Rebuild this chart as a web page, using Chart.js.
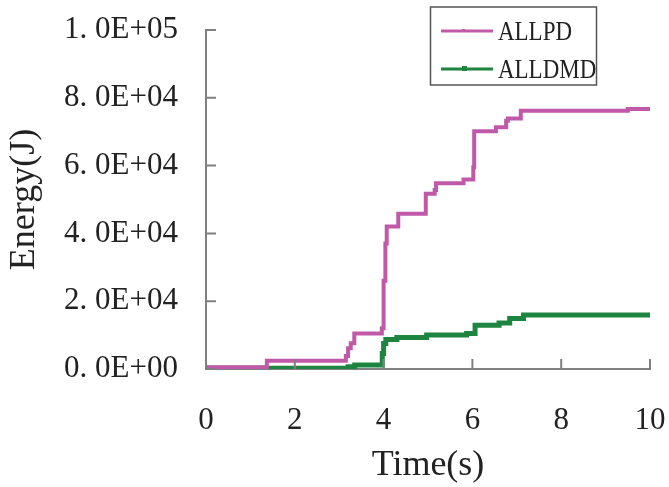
<!DOCTYPE html>
<html>
<head>
<meta charset="utf-8">
<script src="https://cdn.jsdelivr.net/npm/chart.js@4"></script>
<style>
  html, body { margin: 0; padding: 0; background: #fff; }
  #wrap { width: 669px; height: 487px; }
</style>
</head>
<body>
<div id="wrap"><canvas id="energy-chart"></canvas></div>
<script>
// step data: time (s) where the value jumps, energy (J) after the jump
const pdTimes = [0, 1.37, 3.15, 3.2, 3.26, 3.34, 3.96, 4.0, 4.04, 4.07, 4.33, 4.95, 5.15, 5.18, 5.8, 6.02, 6.04, 6.53, 6.76, 6.8, 7.09, 9.5, 10];
const pdValues = [500, 2400, 3800, 6100, 7600, 10500, 12000, 26000, 37000, 42000, 45800, 51700, 52800, 54800, 55900, 59500, 70100, 71300, 73200, 73900, 76200, 76700, 76700];

const dmdTimes = [0, 3.2, 3.35, 3.97, 4.0, 4.05, 4.3, 4.97, 5.87, 6.06, 6.6, 6.84, 7.15, 10];
const dmdValues = [200, 700, 1200, 4600, 7500, 8700, 9300, 10000, 10500, 12900, 13600, 14900, 15900, 15700];

const xTicks = [0, 2, 4, 6, 8, 10];
const yTicks = [0, 20000, 40000, 60000, 80000, 100000];

const seriesLabels = ['ALLPD', 'ALLDMD'];
const seriesColors = ['#c05aa8', '#1d8540'];

const toPoints = (xs, ys) => xs.map((x, i) => ({ x, y: ys[i] }));

const sciLabel = (v) => {
    const exp = v === 0 ? 0 : Math.floor(Math.log10(v));
    const mant = v / Math.pow(10, exp);
    return mant.toFixed(1).replace('.', '. ') + 'E+' + String(exp).padStart(2, '0');
};

const serif = '"Liberation Serif", "DejaVu Serif", serif';
const axisGray = '#808080';

// inward tick marks on both axes
const innerTicks = {
    id: 'innerTicks',
    afterDraw(chart) {
        const { ctx, scales: { x, y } } = chart;
        ctx.save();
        ctx.strokeStyle = axisGray;
        ctx.lineWidth = 2;
        ctx.beginPath();
        yTicks.forEach(v => {
            const py = y.getPixelForValue(v);
            ctx.moveTo(x.left, py);
            ctx.lineTo(x.left + 10, py);
        });
        xTicks.forEach(v => {
            const px = x.getPixelForValue(v);
            ctx.moveTo(px, y.bottom);
            ctx.lineTo(px, y.bottom - 10);
        });
        ctx.stroke();
        ctx.restore();
    }
};

// boxed legend in the top right corner
const boxLegend = {
    id: 'boxLegend',
    afterDraw(chart) {
        const ctx = chart.ctx;
        ctx.save();
        ctx.strokeStyle = '#555';
        ctx.lineWidth = 1.5;
        ctx.strokeRect(430.5, 7, 166, 78);
        const rows = [31, 69];
        chart.data.datasets.forEach((ds, i) => {
            const ly = rows[i];
            ctx.strokeStyle = ds.borderColor;
            ctx.lineWidth = 3;
            ctx.beginPath();
            ctx.moveTo(441, ly);
            ctx.lineTo(493, ly);
            ctx.stroke();
            ctx.fillStyle = ds.borderColor;
            ctx.fillRect(462, ly - (i ? 3 : 2), i ? 5 : 3, i ? 5 : 3);
            ctx.save();
            ctx.translate(498, ly + 9);
            ctx.scale(0.82, 1);
            ctx.fillStyle = '#222';
            ctx.font = '28px ' + serif;
            ctx.textBaseline = 'alphabetic';
            ctx.fillText(ds.label, 0, 0);
            ctx.restore();
        });
        ctx.restore();
    }
};

new Chart(document.getElementById('energy-chart'), {
    type: 'line',
    data: {
        datasets: [
            {
                label: seriesLabels[0],
                data: toPoints(pdTimes, pdValues),
                borderColor: seriesColors[0],
                backgroundColor: seriesColors[0],
                borderWidth: 4,
                stepped: true,
                pointRadius: 0,
                fill: false,
            },
            {
                label: seriesLabels[1],
                data: toPoints(dmdTimes, dmdValues),
                borderColor: seriesColors[1],
                backgroundColor: seriesColors[1],
                borderWidth: 5,
                stepped: true,
                pointRadius: 0,
                fill: false,
            },
        ],
    },
    options: {
        responsive: true,
        maintainAspectRatio: false,
        animation: false,
        layout: { padding: { top: 30, right: 19, left: 0, bottom: 0 } },
        plugins: {
            legend: { display: false },
            tooltip: { enabled: false },
        },
        scales: {
            x: {
                type: 'linear',
                min: 0,
                max: 10,
                afterFit: (scale) => {
                    scale.height = 118;
                    scale.paddingLeft = 0;
                    scale.paddingRight = 0;
                },
                afterBuildTicks: (scale) => { scale.ticks = xTicks.map(value => ({ value })); },
                grid: { display: false, drawTicks: false },
                border: { display: true, color: axisGray, width: 2 },
                ticks: { padding: 33, color: '#222', font: { family: serif, size: 31 } },
                title: {
                    display: true,
                    text: 'Time(s)',
                    color: '#222',
                    font: { family: serif, size: 36 },
                    padding: { top: 0, bottom: 0 },
                },
            },
            y: {
                min: 0,
                max: 100000,
                afterFit: (scale) => {
                    scale.width = 206;
                    scale.paddingTop = 0;
                    scale.paddingBottom = 0;
                },
                afterBuildTicks: (scale) => { scale.ticks = yTicks.map(value => ({ value })); },
                grid: { display: false, drawTicks: false },
                border: { display: true, color: axisGray, width: 2 },
                ticks: {
                    padding: 28,
                    color: '#222',
                    font: { family: serif, size: 31 },
                    callback: (v) => sciLabel(v),
                },
                title: {
                    display: true,
                    text: 'Energy(J)',
                    color: '#222',
                    font: { family: serif, size: 36 },
                    padding: { top: 3, bottom: 0 },
                },
            },
        },
    },
    plugins: [innerTicks, boxLegend],
});
</script>
</body>
</html>
